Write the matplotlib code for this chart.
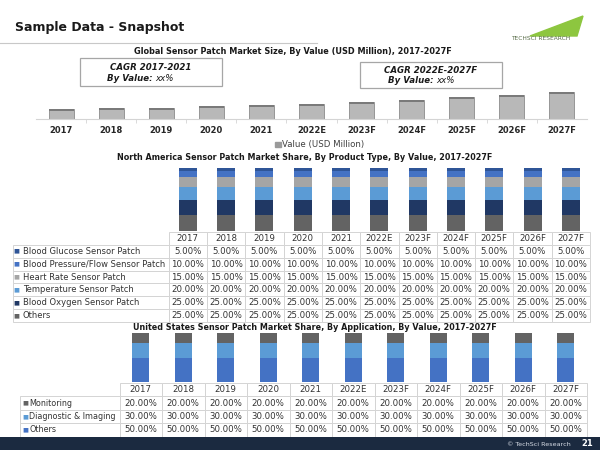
import matplotlib
matplotlib.use("Agg")
import matplotlib.pyplot as plt
from matplotlib.patches import Rectangle, Polygon, Patch

# ---- data ----
years = ["2017", "2018", "2019", "2020", "2021", "2022E", "2023F",
         "2024F", "2025F", "2026F", "2027F"]
market_value = [100, 107, 113, 127, 140, 150, 170, 190, 217, 243, 273]

na_types = ["Blood Glucose Sensor Patch", "Blood Pressure/Flow Sensor Patch",
            "Heart Rate Sensor Patch", "Temperature Sensor Patch",
            "Blood Oxygen Sensor Patch", "Others"]
na_share = [
    [5.0] * 11,
    [10.0] * 11,
    [15.0] * 11,
    [20.0] * 11,
    [25.0] * 11,
    [25.0] * 11,
]
na_colors = ["#2f5597", "#4472c4", "#a5a5a5", "#5b9bd5", "#203864", "#636363"]

us_apps = ["Monitoring", "Diagnostic & Imaging", "Others"]
us_share = [
    [20.0] * 11,
    [30.0] * 11,
    [50.0] * 11,
]
us_colors = ["#636363", "#5b9bd5", "#4472c4"]

W, H = 600, 450
TXT = "#333333"
GRID = "#d4d4d4"

fig = plt.figure(figsize=(6, 4.5), dpi=100)
fig.patch.set_facecolor("white")


def px_axes(x0, y0, x1, y1):
    return fig.add_axes([x0 / W, 1 - y1 / H, (x1 - x0) / W, (y1 - y0) / H])


def fx(x):
    return x / W


def fy(y):
    return 1 - y / H


def px_rect(x0, y0, x1, y1, **kw):
    r = Rectangle((fx(x0), fy(y1)), (x1 - x0) / W, (y1 - y0) / H,
                  transform=fig.transFigure, **kw)
    fig.add_artist(r)


# ---- header ----
fig.text(fx(15), fy(27), "Sample Data - Snapshot", fontsize=9, fontweight="bold",
         color="#1a1a1a", va="center", ha="left")
fig.add_artist(plt.Line2D([0, fx(317)], [fy(43), fy(43)], color="#c8c8c8", lw=0.8,
                          transform=fig.transFigure))
# logo
fig.add_artist(Polygon([(fx(530), fy(36)), (fx(583), fy(16)), (fx(577), fy(36))],
                       closed=True, color="#8dc63f", transform=fig.transFigure))
fig.text(fx(541), fy(38), "TECHSCI RESEARCH", fontsize=4.2, color="#5a6e4a",
         ha="center", va="center")

# ---- chart 1 ----
fig.text(fx(293), fy(52), "Global Sensor Patch Market Size, By Value (USD Million), 2017-2027F",
         fontsize=5.9, fontweight="bold", color="#1a1a1a", ha="center", va="center")

for (x0, y0, x1, y1), l1, ly1, ly2, xs in [
        ((80, 58, 222, 86), "CAGR 2017-2021", 67.5, 78.5, 153),
        ((360, 62, 502, 88), "CAGR 2022E-2027F", 70.5, 80.5, 434)]:
    px_rect(x0, y0, x1, y1, facecolor="white", edgecolor="#a6a6a6", lw=0.9)
    fig.text(fx((x0 + x1) / 2), fy(ly1), l1, fontsize=6.2, fontweight="bold",
             fontstyle="italic", color="#1a1a1a", ha="center", va="center")
    fig.text(fx(xs), fy(ly2), "By Value:", fontsize=6.2, fontweight="bold",
             fontstyle="italic", color="#1a1a1a", ha="right", va="center")
    fig.text(fx(xs + 2), fy(ly2), "xx%", fontsize=6.2, fontstyle="italic",
             color="#1a1a1a", ha="left", va="center")

ax1 = px_axes(36, 60, 587, 119)
xpos = list(range(len(years)))
ax1.bar(xpos, market_value, width=0.5, color="#b8b8b8", edgecolor="#8c8c8c", lw=0.6)
ax1.bar(xpos, [18] * len(years), bottom=[v - 18 for v in market_value],
        width=0.5, color="#7a7a7a", lw=0)
ax1.set_xlim(-0.5, len(years) - 0.5)
ax1.set_ylim(0, 590)
ax1.set_yticks([])
for s in ["left", "right", "top"]:
    ax1.spines[s].set_visible(False)
ax1.spines["bottom"].set_color(GRID)
ax1.set_xticks(xpos)
ax1.set_xticklabels(years, fontsize=6, fontweight="bold", color="#262626")
ax1.set_xticks([i + 0.5 for i in xpos[:-1]], minor=True)
ax1.tick_params(axis="x", which="major", length=0, pad=5)
ax1.tick_params(axis="x", which="minor", length=3, color=GRID)
ax1.patch.set_alpha(0)
ax1.legend(handles=[Patch(color="#9a9a9a", label="Value (USD Million)")],
           loc="center", bbox_to_anchor=((320 - 36) / 551, -(145 - 119) / 59),
           frameon=False, fontsize=6.2, handlelength=0.6, handleheight=0.6,
           handletextpad=0.2, labelcolor="#404040")


def stacked_with_table(ax, labels, shares, colors, tbl_px, ax_px,
                       label_w, year_w, bar_w, pad_px, marker_x, label_fs):
    n = len(years)
    # bars: list order is top-to-bottom, so stack from the last series up
    bottom = [0.0] * n
    for vals, c in zip(reversed(shares), reversed(colors)):
        ax.bar(range(n), vals, bottom=bottom, width=bar_w, color=c, lw=0)
        bottom = [b + v for b, v in zip(bottom, vals)]
    ax.set_xlim(-0.5, n - 0.5)
    ax.set_ylim(0, 100)
    ax.axis("off")

    ax0, ay0, ax1_, ay1 = ax_px
    tx0, ty0, tx1, ty1 = tbl_px
    aw, ah = ax1_ - ax0, ay1 - ay0
    bbox = [(tx0 - ax0) / aw, -(ty1 - ay1) / ah, (tx1 - tx0) / aw, (ty1 - ty0) / ah]
    rows = [[""] + years] + [[lab] + ["%.2f%%" % v for v in vals]
                             for lab, vals in zip(labels, shares)]
    tw = label_w + year_w * n
    tbl = ax.table(cellText=rows, colWidths=[label_w / tw] + [year_w / tw] * n,
                   cellLoc="center", bbox=bbox)
    tbl.auto_set_font_size(False)
    tbl.set_fontsize(6.2)
    for (r, c), cell in tbl.get_celld().items():
        cell.set_edgecolor(GRID)
        cell.set_linewidth(0.7)
        cell.get_text().set_color(TXT)
        if c == 0:
            cell._loc = "left"
            cell.PAD = pad_px / label_w
            cell.get_text().set_ha("left")
            cell.get_text().set_fontsize(label_fs)
        if r == 0 and c == 0:
            cell.visible_edges = ""
    nrows = len(rows)
    rh = (ty1 - ty0) / nrows
    for i, c in enumerate(colors):
        yc = ty0 + rh * (i + 1.5)
        ax.text((marker_x - ax0) / aw, -(yc - ay1) / ah, "■", transform=ax.transAxes,
                fontsize=4.5, color=c, ha="center", va="center", clip_on=False)


# ---- chart 2 ----
fig.text(fx(305), fy(157),
         "North America Sensor Patch Market Share, By Product Type, By Value, 2017-2027F",
         fontsize=5.8, fontweight="bold", color="#1a1a1a", ha="center", va="center")
ax_px2 = (168.7, 168, 590, 231)
ax2 = px_axes(*ax_px2)
stacked_with_table(ax2, na_types, na_share, na_colors,
                   (12.7, 232, 590, 322), ax_px2, 156, 38.3, 0.47, 10.3, 16.5, 6.0)

# ---- chart 3 ----
ax_px3 = (119.5, 333, 587, 382.3)
ax3 = px_axes(*ax_px3)
stacked_with_table(ax3, us_apps, us_share, us_colors,
                   (20, 383, 587, 436.5), ax_px3, 99.5, 42.5, 0.4, 9, 25.5, 5.8)
fig.text(fx(315), fy(328),
         "United States Sensor Patch Market Share, By Application, By Value, 2017-2027F",
         fontsize=5.8, fontweight="bold", color="#1a1a1a", ha="center", va="center")

# ---- footer ----
px_rect(0, 437, 600, 450, facecolor="#1b2a40", edgecolor="none")
fig.text(fx(571), fy(444), "© TechSci Research", fontsize=4.6, color="#d8dde6",
         ha="right", va="center")
fig.text(fx(581), fy(444), "21", fontsize=6, fontweight="bold", color="white",
         ha="left", va="center")

fig.savefig("out.png", dpi=100)
